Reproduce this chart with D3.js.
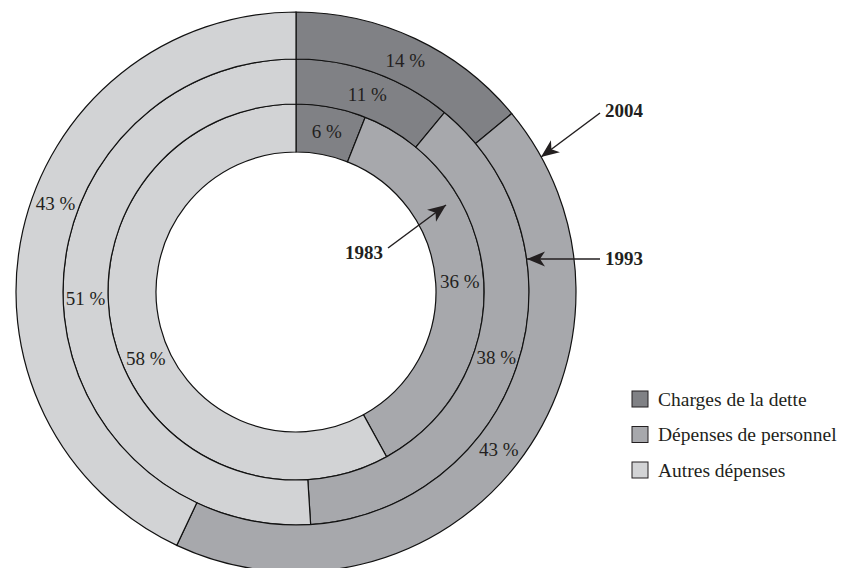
<!DOCTYPE html>
<html>
<head>
<meta charset="utf-8">
<script src="https://cdn.jsdelivr.net/npm/d3@7"></script>
<style>
  html, body { margin: 0; padding: 0; background: #fff; }
  svg { display: block; }
  text { font-family: "Liberation Serif", "Times New Roman", serif; fill: #231f20; }
</style>
</head>
<body>
<svg id="chart" width="844" height="568"></svg>
<script>
// ---- data ----
const categories = ["Charges de la dette", "Dépenses de personnel", "Autres dépenses"];
const years = ["1983", "1993", "2004"];
const values1983 = [6, 36, 58];
const values1993 = [11, 38, 51];
const values2004 = [14, 43, 43];
const colors = ["#808185", "#a7a8ac", "#d2d3d5"];

// ---- layout ----
const W = 844, H = 568;
const cx = 296, cy = 292;
const ringRadii = [[140, 188], [188, 233], [233, 280]];
const labelShiftDeg = [[0, 0, -9.3], [0, 0, 0], [0, 0, 7.7]];
const fontSize = 19;

const svg = d3.select("#chart");
const g = svg.append("g").attr("transform", `translate(${cx},${cy})`);

const color = d3.scaleOrdinal().domain(categories).range(colors);
const pie = d3.pie().sort(null).value(d => d.v);

const series = [values1983, values1993, values2004];

series.forEach((vals, i) => {
  const data = vals.map((v, k) => ({ v, cat: categories[k] }));
  const arcs = pie(data);
  const arc = d3.arc().innerRadius(ringRadii[i][0]).outerRadius(ringRadii[i][1]);
  const ring = g.append("g").attr("class", "ring-" + years[i]);
  ring.selectAll("path")
    .data(arcs)
    .join("path")
    .attr("d", arc)
    .attr("fill", d => color(d.data.cat))
    .attr("stroke", "#111")
    .attr("stroke-width", 1.2);

  const rMid = (ringRadii[i][0] + ringRadii[i][1]) / 2;
  ring.selectAll("text")
    .data(arcs)
    .join("text")
    .attr("x", (d, k) => {
      const a = (d.startAngle + d.endAngle) / 2 + labelShiftDeg[i][k] * Math.PI / 180;
      return rMid * Math.sin(a);
    })
    .attr("y", (d, k) => {
      const a = (d.startAngle + d.endAngle) / 2 + labelShiftDeg[i][k] * Math.PI / 180;
      return -rMid * Math.cos(a);
    })
    .attr("dy", "0.35em")
    .attr("text-anchor", "middle")
    .style("font-size", fontSize + "px")
    .text(d => d.data.v + " %");
});

// ---- arrows with year labels ----
const defs = svg.append("defs");
defs.append("marker")
  .attr("id", "arrow")
  .attr("viewBox", "-20 -9 22 18")
  .attr("refX", 0).attr("refY", 0)
  .attr("markerWidth", 22).attr("markerHeight", 18)
  .attr("markerUnits", "userSpaceOnUse")
  .attr("orient", "auto")
  .append("path")
  .attr("d", "M0,0 L-18,-7.5 L-13,0 L-18,7.5 Z")
  .attr("fill", "#231f20");

const arrows = [
  { year: "1983", from: [388, 248], to: [446, 205], tx: 364, ty: 252 },
  { year: "1993", from: [600, 259], to: [527, 259], tx: 624, ty: 258 },
  { year: "2004", from: [600, 113], to: [541, 157], tx: 624, ty: 110 }
];
arrows.forEach(a => {
  svg.append("line")
    .attr("x1", a.from[0]).attr("y1", a.from[1])
    .attr("x2", a.to[0]).attr("y2", a.to[1])
    .attr("stroke", "#231f20")
    .attr("stroke-width", 1.5)
    .attr("marker-end", "url(#arrow)");
  svg.append("text")
    .attr("x", a.tx).attr("y", a.ty)
    .attr("dy", "0.35em")
    .attr("text-anchor", "middle")
    .style("font-size", "19px")
    .style("font-weight", "bold")
    .text(a.year);
});

// ---- legend ----
const legend = svg.append("g").attr("transform", "translate(632,391)");
const item = legend.selectAll("g")
  .data(categories)
  .join("g")
  .attr("transform", (d, i) => `translate(0,${i * 35.5})`);
item.append("rect")
  .attr("width", 16).attr("height", 16)
  .attr("fill", d => color(d))
  .attr("stroke", "#231f20")
  .attr("stroke-width", 1);
item.append("text")
  .attr("x", 26).attr("y", 8)
  .attr("dy", "0.35em")
  .style("font-size", "19.5px")
  .text(d => d);
</script>
</body>
</html>
